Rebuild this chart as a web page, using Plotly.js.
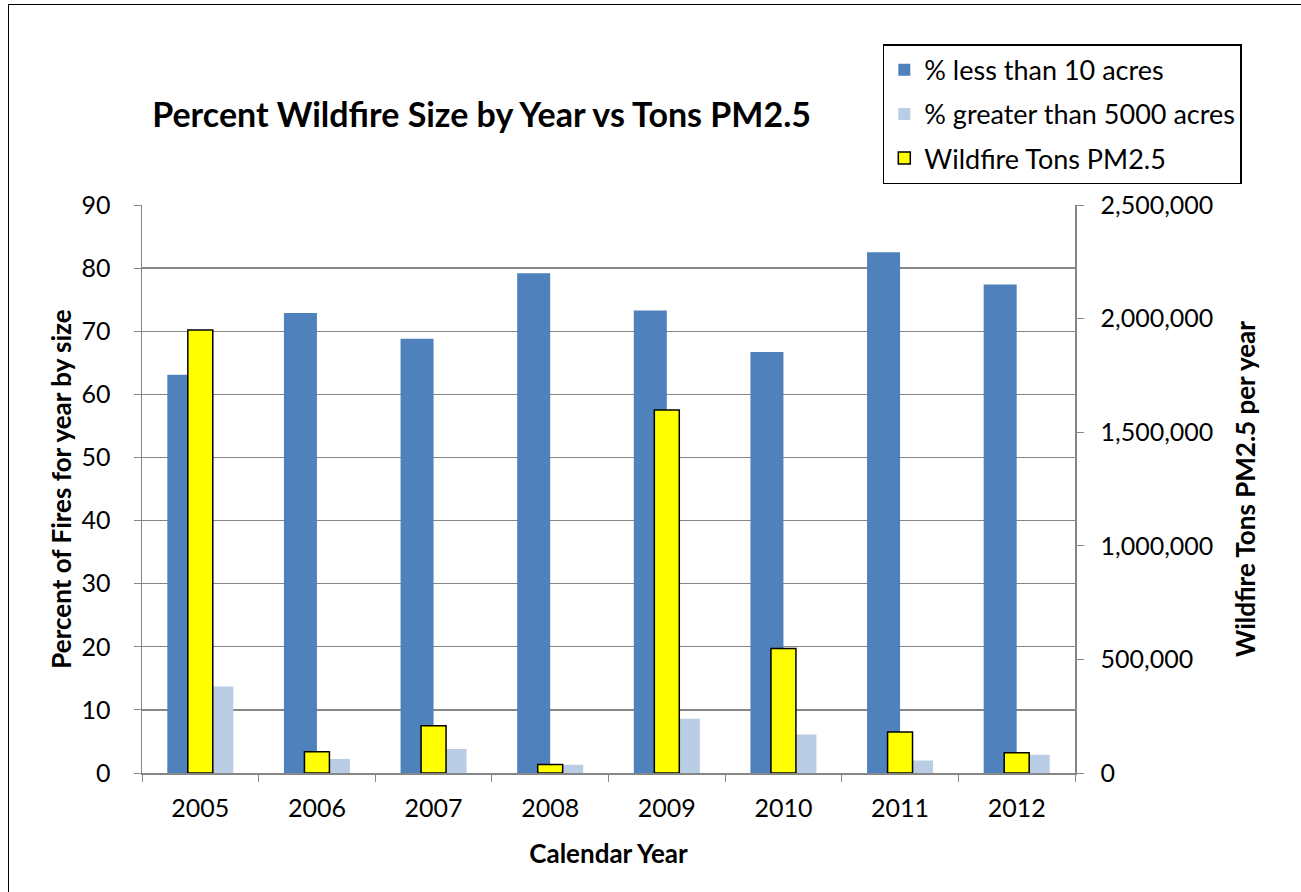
<!DOCTYPE html>
<html>
<head>
<meta charset="utf-8">
<script src="https://cdn.plot.ly/plotly-3.0.1.min.js"></script>
<style>
html,body{margin:0;padding:0;background:#fff;}
#chart{width:1301px;height:892px;}
#frame{position:absolute;left:8px;top:4px;width:1310px;height:900px;border:1.5px solid #000;pointer-events:none;box-sizing:border-box;}
</style>
</head>
<body>
<div id="chart"></div>
<div id="frame"></div>
<script>
const years = ['2005','2006','2007','2008','2009','2010','2011','2012'];
const pctLess10 = [63.1, 72.9, 68.8, 79.2, 73.3, 66.7, 82.5, 77.4];
const pctGreater5000 = [13.7, 2.2, 3.8, 1.3, 8.6, 6.1, 2.0, 2.9];
const tonsPM25 = [1950000, 93000, 208000, 37000, 1598000, 548000, 181000, 89000];

const FONT = 'Lato, "Open Sans", sans-serif';
const GRAY = '#868686';

const traces = [
  {type:'bar', x:years, y:pctLess10, name:'% less than 10 acres', yaxis:'y',
   width:0.283, offset:-0.283, marker:{color:'#4F81BD', line:{width:0}}, legendgroup:'a'},
  {type:'bar', x:years, y:pctGreater5000, name:'% greater than 5000 acres', yaxis:'y',
   width:0.283, offset:0, marker:{color:'#B9CDE5', line:{width:0}}, legendgroup:'b'},
  {type:'bar', x:years, y:tonsPM25, name:'Wildfire Tons PM2.5', yaxis:'y2',
   width:0.214, offset:-0.107, marker:{color:'#FFFF00', line:{color:'#000', width:1.5}}, legendgroup:'c'}
];

const layout = {
  width:1301, height:892,
  margin:{l:142, r:226, t:205, b:119},
  paper_bgcolor:'#fff', plot_bgcolor:'#fff',
  font:{family:FONT, size:25, color:'#000'},
  barmode:'overlay',
  showlegend:true,
  title:{text:'<b>Percent Wildfire Size by Year vs Tons PM2.5</b>', font:{family:FONT, size:34, color:'#000'},
         x:0.364, xref:'paper', xanchor:'center', y:0.871, yref:'container', yanchor:'middle'},
  legend:{x:0.794, y:1.283, xanchor:'left', yanchor:'top', bordercolor:'#000', borderwidth:1.5,
          bgcolor:'#fff', font:{family:FONT, size:27}, traceorder:'grouped', tracegroupgap:6},
  xaxis:{type:'category', range:[-0.5,7.5], tickson:'boundaries', ticks:'outside', ticklen:7,
         tickcolor:GRAY, showline:true, linecolor:GRAY, linewidth:1.5, showgrid:false,
         tickfont:{size:25}, ticklabelstandoff:12,
         title:{text:'<b>Calendar Year</b>', font:{size:26}, standoff:24}},
  yaxis:{range:[0,90], dtick:10, ticks:'outside', ticklen:7, tickcolor:GRAY, showline:true,
         linecolor:GRAY, linewidth:1.5, gridcolor:GRAY, gridwidth:1.4, zeroline:false,
         tickfont:{size:25}, ticklabelstandoff:18,
         title:{text:'<b>Percent of Fires for year by size</b>', font:{size:26}, standoff:2}},
  yaxis2:{range:[0,2500000], dtick:500000, tickformat:',d', overlaying:'y', side:'right',
          ticks:'outside', ticklen:7, tickcolor:GRAY, showline:true, linecolor:GRAY, linewidth:1.5,
          showgrid:false, zeroline:false, tickfont:{size:25}, ticklabelstandoff:12,
          title:{text:'<b>Wildfire Tons PM2.5 per year</b>', font:{size:26}, standoff:24}}
};

Plotly.newPlot('chart', traces, layout, {displayModeBar:false, staticPlot:true});
</script>
</body>
</html>
